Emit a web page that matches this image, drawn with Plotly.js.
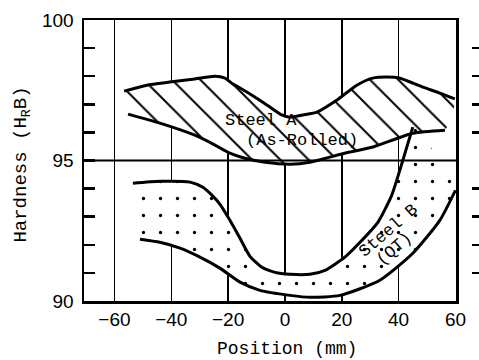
<!DOCTYPE html>
<html>
<head>
<meta charset="utf-8">
<script src="https://cdn.plot.ly/plotly-3.0.1.min.js"></script>
<style>html,body{margin:0;padding:0;background:#fff;}#chart{width:479px;height:360px;}</style>
</head>
<body>
<div id="chart"></div>
<script>
// Steel A (As-Rolled) band
var steelAUpperX = [-56.6, -48.6, -40.5, -31.7, -24.6, -21.1, -18.3, -15.8, -10.6, -5.3, -1.1, 1.8, 6.3, 11.3, 18.3, 25.3, 30.9, 35.9, 40.5, 48.6, 54.5, 59.8];
var steelAUpperY = [97.47, 97.68, 97.79, 97.90, 98.00, 97.93, 97.72, 97.58, 97.26, 96.90, 96.62, 96.54, 96.62, 96.72, 97.15, 97.68, 97.93, 97.97, 97.93, 97.61, 97.40, 97.19];
var steelALowerX = [-55.2, -44.0, -31.7, -24.6, -19.4, -14.1, -7.0, 1.8, 8.8, 15.8, 22.9, 31.0, 45.0, 56.3];
var steelALowerY = [96.65, 96.33, 95.90, 95.55, 95.26, 95.08, 94.94, 94.87, 94.94, 95.12, 95.30, 95.48, 95.97, 96.08];
// Steel B (QT) band
var steelBUpperX = [-53.5, -44.0, -33.4, -28.9, -25.7, -22.9, -19.4, -15.8, -12.3, -8.1, -3.5, 1.8, 8.8, 14.1, 21.1, 27.1, 32.7, 37.6, 41.5, 45.0];
var steelBUpperY = [94.19, 94.26, 94.23, 94.05, 93.77, 93.45, 92.88, 92.23, 91.59, 91.20, 91.02, 90.95, 90.95, 91.09, 91.56, 92.16, 92.80, 93.77, 95.01, 96.19];
var steelBLowerX = [-51.0, -44.0, -36.9, -29.9, -22.9, -15.8, -8.8, 1.8, 8.8, 19.4, 33.4, 45.0, 54.5, 60.0];
var steelBLowerY = [92.20, 92.09, 91.88, 91.56, 91.17, 90.67, 90.38, 90.20, 90.13, 90.20, 90.74, 91.70, 92.87, 93.94];

var xTickVals = [-60, -40, -20, 0, 20, 40, 60];
var yTickVals = [90, 95, 100];
var yMinorTicks = [91, 92, 93, 94, 96, 97, 98, 99];
var refLineY = 95;

var labelA1 = {text: 'Steel A', x: -8.3, y: 96.42};
var labelA2 = {text: '(As-Rolled)', x: 5.9, y: 95.72};
var labelB1 = {text: 'Steel B', x: 36.6, y: 92.5};
var labelB2 = {text: '(QT)', x: 38.4, y: 91.84};

function band(ux, uy, lx, ly) {
  return {x: ux.concat(lx.slice().reverse()), y: uy.concat(ly.slice().reverse())};
}
var bandA = band(steelAUpperX, steelAUpperY, steelALowerX, steelALowerY);
var bandB = band(steelBUpperX, steelBUpperY, steelBLowerX, steelBLowerY);

var lineStyle = {color: 'black', width: 3, shape: 'spline', smoothing: 0.6};
var mono = 'Liberation Mono, DejaVu Sans Mono, monospace';

var traces = [
  {x: bandA.x, y: bandA.y, type: 'scatter', mode: 'lines', fill: 'toself',
   line: {width: 0, shape: 'spline', smoothing: 0.6}, fillcolor: 'white',
   fillpattern: {shape: '\\', size: 20, solidity: 0.1, fgcolor: 'black', bgcolor: 'white'},
   hoverinfo: 'skip', showlegend: false},
  {x: bandB.x, y: bandB.y, type: 'scatter', mode: 'lines', fill: 'toself',
   line: {width: 0, shape: 'spline', smoothing: 0.6}, fillcolor: 'white',
   fillpattern: {shape: '.', size: 17, solidity: 0.03, fgcolor: 'black', bgcolor: 'white'},
   hoverinfo: 'skip', showlegend: false},
  {x: steelAUpperX, y: steelAUpperY, type: 'scatter', mode: 'lines', line: lineStyle, showlegend: false},
  {x: steelALowerX, y: steelALowerY, type: 'scatter', mode: 'lines', line: lineStyle, showlegend: false},
  {x: steelBUpperX, y: steelBUpperY, type: 'scatter', mode: 'lines', line: lineStyle, showlegend: false},
  {x: steelBLowerX, y: steelBLowerY, type: 'scatter', mode: 'lines', line: lineStyle, showlegend: false},
  {x: [0], y: [95], yaxis: 'y2', type: 'scatter', mode: 'none', showlegend: false, hoverinfo: 'skip'}
];

function ann(l, angle) {
  return {text: l.text, x: l.x, y: l.y, xref: 'x', yref: 'y', showarrow: false,
          textangle: angle, xanchor: 'center', yanchor: 'middle',
          font: {family: mono, size: 17, color: 'black'}};
}

var layout = {
  width: 479, height: 360,
  margin: {l: 84, r: 0, t: 20, b: 59},
  paper_bgcolor: 'white', plot_bgcolor: 'white',
  showlegend: false,
  xaxis: {
    domain: [0, 0.9418], range: [-70.7, 60.2],
    tickvals: xTickVals, ticks: '',
    showgrid: true, gridcolor: 'black', gridwidth: 1.5,
    zeroline: false, showline: true, mirror: true, linecolor: 'black', linewidth: 2.5,
    tickfont: {family: 'Liberation Sans, Arial, sans-serif', size: 19, color: 'black'}
  },
  yaxis: {
    range: [90, 100], tickvals: yTickVals,
    ticks: 'inside', ticklen: 11, tickwidth: 2.5, tickcolor: 'black',
    ticklabelstandoff: 4,
    minor: {tickmode: 'array', tickvals: yMinorTicks, ticks: 'inside', ticklen: 11, tickwidth: 2.5, tickcolor: 'black', showgrid: false},
    showgrid: false, zeroline: false,
    showline: true, mirror: true, linecolor: 'black', linewidth: 2.5,
    tickfont: {family: 'Liberation Sans, Arial, sans-serif', size: 19, color: 'black'}
  },
  yaxis2: {
    range: [90, 100], overlaying: 'y', anchor: 'free', position: 0.98, side: 'right',
    tickvals: yMinorTicks, ticks: 'outside', ticklen: 8, tickwidth: 2.5, tickcolor: 'black',
    showticklabels: false, showgrid: false, zeroline: false, showline: false
  },
  shapes: [
    {type: 'line', xref: 'x domain', yref: 'y', x0: 0, x1: 1, y0: refLineY, y1: refLineY,
     line: {color: 'black', width: 1.8}, layer: 'above'}
  ],
  annotations: [
    ann(labelA1, 0), ann(labelA2, 0), ann(labelB1, -41), ann(labelB2, -41),
    {text: 'Position (mm)', xref: 'paper', yref: 'paper', x: 0.5127, y: -0.17,
     xanchor: 'center', yanchor: 'middle', showarrow: false,
     font: {family: mono, size: 18, color: 'black'}},
    {text: 'Hardness (H<sub>R</sub>B)', xref: 'paper', yref: 'paper', x: -0.158, y: 0.484,
     xanchor: 'center', yanchor: 'middle', textangle: -90, showarrow: false,
     font: {family: mono, size: 19, color: 'black'}}
  ]
};

Plotly.newPlot('chart', traces, layout, {displayModeBar: false, staticPlot: true});
</script>
</body>
</html>
